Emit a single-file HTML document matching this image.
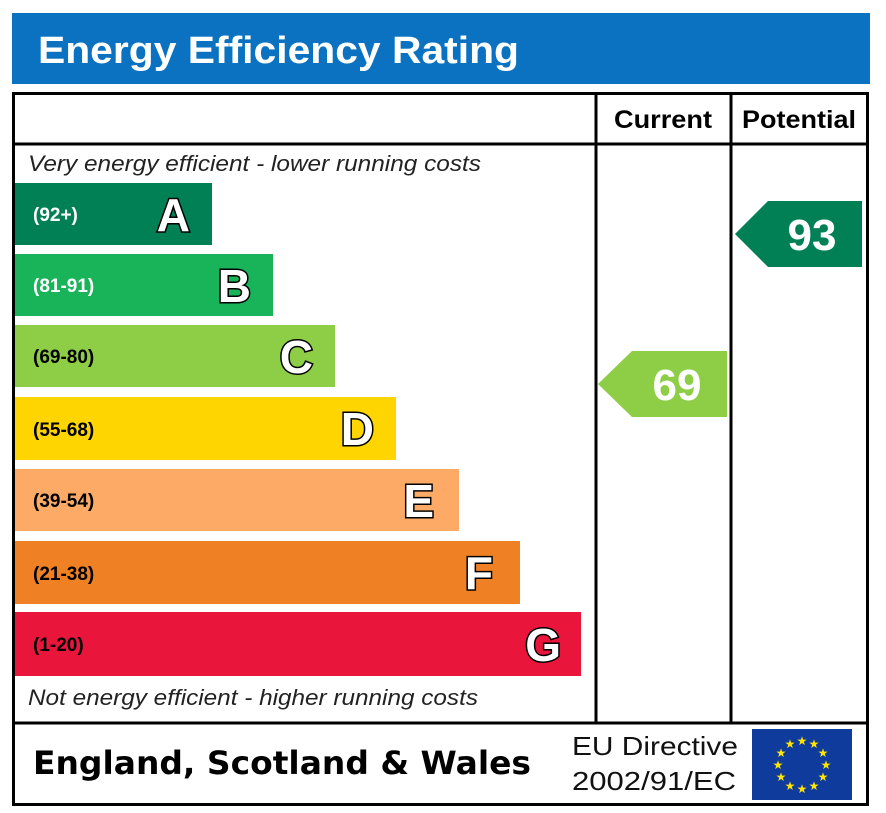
<!DOCTYPE html>
<html><head><style>
html,body{margin:0;padding:0;background:#fff;}
svg{display:block;}
text{font-family:"Liberation Sans",Arial,sans-serif;}
</style></head><body>
<svg width="886" height="813" viewBox="0 0 886 813" xmlns="http://www.w3.org/2000/svg">
<rect x="12" y="13" width="858" height="71" fill="#0a72c0"/>
<text x="38" y="63" font-size="38" font-weight="bold" fill="#fff" textLength="481" lengthAdjust="spacingAndGlyphs">Energy Efficiency Rating</text>
<rect x="13.5" y="93.5" width="854" height="711" fill="#fff" stroke="#000" stroke-width="3"/>
<line x1="13" y1="144" x2="868" y2="144" stroke="#000" stroke-width="3"/>
<line x1="13" y1="723" x2="868" y2="723" stroke="#000" stroke-width="3"/>
<line x1="596" y1="94" x2="596" y2="723" stroke="#000" stroke-width="3"/>
<line x1="731" y1="94" x2="731" y2="723" stroke="#000" stroke-width="3"/>
<text x="614" y="128" font-size="25" font-weight="bold" textLength="98" lengthAdjust="spacingAndGlyphs">Current</text>
<text x="742" y="128" font-size="25" font-weight="bold" textLength="114" lengthAdjust="spacingAndGlyphs">Potential</text>
<text x="28" y="171" font-size="22" font-style="italic" fill="#222" textLength="453" lengthAdjust="spacingAndGlyphs">Very energy efficient - lower running costs</text>
<text x="28" y="705" font-size="22" font-style="italic" fill="#222" textLength="450" lengthAdjust="spacingAndGlyphs">Not energy efficient - higher running costs</text>
<g font-weight="bold">
<rect x="15" y="183" width="197" height="62" fill="#008054"/>
<text x="33" y="221" font-size="19" fill="#fff">(92+)</text>
<text x="190" y="231" font-size="46" fill="#fff" stroke="#000" stroke-width="3" paint-order="stroke" text-anchor="end">A</text>
<rect x="15" y="254" width="258" height="62" fill="#19b459"/>
<text x="33" y="292" font-size="19" fill="#fff">(81-91)</text>
<text x="251" y="302" font-size="46" fill="#fff" stroke="#000" stroke-width="3" paint-order="stroke" text-anchor="end">B</text>
<rect x="15" y="325" width="320" height="62" fill="#8dce46"/>
<text x="33" y="363" font-size="19" fill="#000">(69-80)</text>
<text x="313" y="373" font-size="46" fill="#fff" stroke="#000" stroke-width="3" paint-order="stroke" text-anchor="end">C</text>
<rect x="15" y="397" width="381" height="63" fill="#ffd500"/>
<text x="33" y="436" font-size="19" fill="#000">(55-68)</text>
<text x="374" y="445" font-size="46" fill="#fff" stroke="#000" stroke-width="3" paint-order="stroke" text-anchor="end">D</text>
<rect x="15" y="469" width="444" height="62" fill="#fcaa65"/>
<text x="33" y="507" font-size="19" fill="#000">(39-54)</text>
<text x="434" y="517" font-size="46" fill="#fff" stroke="#000" stroke-width="3" paint-order="stroke" text-anchor="end">E</text>
<rect x="15" y="541" width="505" height="63" fill="#ef8023"/>
<text x="33" y="580" font-size="19" fill="#000">(21-38)</text>
<text x="493" y="589" font-size="46" fill="#fff" stroke="#000" stroke-width="3" paint-order="stroke" text-anchor="end">F</text>
<rect x="15" y="612" width="566" height="64" fill="#e9153b"/>
<text x="33" y="651" font-size="19" fill="#000">(1-20)</text>
<text x="561" y="661" font-size="46" fill="#fff" stroke="#000" stroke-width="3" paint-order="stroke" text-anchor="end">G</text>
</g>
<polygon points="598,384 632,351 727,351 727,417 632,417" fill="#8dce46"/>
<text x="677" y="400" font-size="44" font-weight="bold" fill="#fff" text-anchor="middle">69</text>
<polygon points="735,234 768,201 862,201 862,267 768,267" fill="#008054"/>
<text x="812" y="250" font-size="44" font-weight="bold" fill="#fff" text-anchor="middle">93</text>
<text x="33" y="774" font-size="32" font-weight="bold" style="font-family:'DejaVu Sans',sans-serif" textLength="498" lengthAdjust="spacingAndGlyphs">England, Scotland &amp; Wales</text>
<text x="572" y="755" font-size="26" fill="#111" textLength="166" lengthAdjust="spacingAndGlyphs">EU Directive</text>
<text x="572" y="790" font-size="26" fill="#111" textLength="164" lengthAdjust="spacingAndGlyphs">2002/91/EC</text>
<rect x="752" y="729" width="100" height="71" fill="#0f3b9c"/>
<g fill="#ffe500" font-size="12" text-anchor="middle">
<text x="802" y="745">★</text><text x="814" y="748">★</text><text x="823" y="757">★</text>
<text x="826" y="769">★</text><text x="823" y="781">★</text><text x="814" y="790">★</text>
<text x="802" y="793">★</text><text x="790" y="790">★</text><text x="781" y="781">★</text>
<text x="778" y="769">★</text><text x="781" y="757">★</text><text x="790" y="748">★</text>
</g>
</svg>
</body></html>
